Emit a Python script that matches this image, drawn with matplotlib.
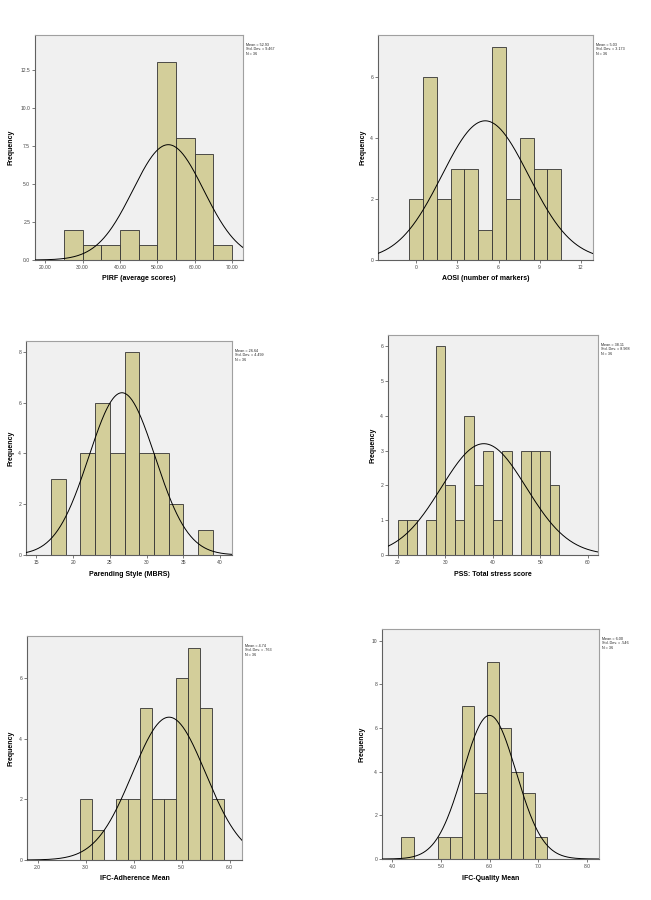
# %%
# Import packages
import numpy as np
import matplotlib
matplotlib.use("Agg")
import matplotlib.pyplot as plt

plt.rcParams["font.family"] = ["Liberation Sans", "DejaVu Sans"]

# %%
# Histogram data read off the SPSS output (bin start, bin width, counts)
pirf_start, pirf_width = 25.0, 5.0
pirf_counts = [2, 1, 1, 2, 1, 13, 8, 7, 1]

aosi_start, aosi_width = -0.53, 1.01
aosi_counts = [2, 6, 2, 3, 3, 1, 7, 2, 4, 3, 3]

mbrs_start, mbrs_width = 17.0, 2.0
mbrs_counts = [3, 0, 4, 6, 4, 8, 4, 4, 2, 0, 1]

pss_start, pss_width = 20.0, 2.0
pss_counts = [1, 1, 0, 1, 6, 2, 1, 4, 2, 3, 1, 3, 0, 3, 3, 3, 2]

adh_start, adh_width = 2.88, 0.25
adh_counts = [2, 1, 0, 2, 2, 5, 2, 2, 6, 7, 5, 2]

qual_start, qual_width = 4.19, 0.25
qual_counts = [1, 0, 0, 1, 1, 7, 3, 9, 6, 4, 3, 1]

# Summary statistics shown next to each chart
means = [52.93, 5.03, 26.64, 38.11, 4.74, 6.00]
std_devs = [9.467, 3.173, 4.499, 8.968, 0.763, 0.546]
mean_labels = ["52.93", "5.03", "26.64", "38.11", "4.74", "6.00"]
sd_labels = ["9.467", "3.173", "4.499", "8.968", ".763", ".546"]
n_total = 36

x_labels = ["PIRF (average scores)", "AOSI (number of markers)",
            "Parending Style (MBRS)", "PSS: Total stress score",
            "IFC-Adherence Mean", "IFC-Quality Mean"]

x_ticks = [[20, 30, 40, 50, 60, 70], [0, 3, 6, 9, 12], [15, 20, 25, 30, 35, 40],
           [20, 30, 40, 50, 60], [2, 3, 4, 5, 6], [4, 5, 6, 7, 8]]
x_tick_labels = [["20.00", "30.00", "40.00", "50.00", "60.00", "70.00"],
                 ["0", "3", "6", "9", "12"],
                 ["15", "20", "25", "30", "35", "40"],
                 ["20", "30", "40", "50", "60"],
                 ["2.0", "3.0", "4.0", "5.0", "6.0"],
                 ["4.0", "5.0", "6.0", "7.0", "8.0"]]
y_ticks = [[0, 2.5, 5, 7.5, 10, 12.5], [0, 2, 4, 6], [0, 2, 4, 6, 8],
           [0, 1, 2, 3, 4, 5, 6], [0, 2, 4, 6], [0, 2, 4, 6, 8, 10]]
y_tick_labels = [["0.0", "2.5", "5.0", "7.5", "10.0", "12.5"],
                 ["0", "2", "4", "6"], ["0", "2", "4", "6", "8"],
                 ["0", "1", "2", "3", "4", "5", "6"], ["0", "2", "4", "6"],
                 ["0", "2", "4", "6", "8", "10"]]

x_limits = [(17.3, 72.9), (-2.8, 12.9), (13.6, 41.6), (17.9, 62.2), (1.78, 6.26), (3.79, 8.25)]
y_limits = [14.8, 7.39, 8.42, 6.33, 7.38, 10.53]

hists = [(pirf_start, pirf_width, pirf_counts), (aosi_start, aosi_width, aosi_counts),
         (mbrs_start, mbrs_width, mbrs_counts), (pss_start, pss_width, pss_counts),
         (adh_start, adh_width, adh_counts), (qual_start, qual_width, qual_counts)]

# Axes boxes in pixels: left, right, top, bottom, offset of y label
boxes = [(35, 243, 35, 260, 24), (378, 593, 35, 260, 15),
         (26, 232, 341, 555, 15), (388, 598, 335, 555, 15),
         (27, 242, 636, 860, 16), (382, 599, 629, 859, 20)]

W, H = 651, 900
bar_color = "#d3ce9a"
bg_color = "#f0f0f0"

# %%
# Draw the six histograms
fig = plt.figure(figsize=(W / 100, H / 100), dpi=100)

for i in range(6):
    left, right, top, bottom, ylab_off = boxes[i]
    ax = fig.add_axes([left / W, 1 - bottom / H, (right - left) / W, (bottom - top) / H])
    ax.set_facecolor(bg_color)

    start, width, counts = hists[i]
    lefts = [start + k * width for k in range(len(counts))]
    keep = [k for k in range(len(counts)) if counts[k] > 0]
    ax.bar([lefts[k] for k in keep], [counts[k] for k in keep], width=width,
           align="edge", color=bar_color, edgecolor="#333333", linewidth=0.6, zorder=2)

    # Normal curve scaled to the histogram
    xs = np.linspace(x_limits[i][0], x_limits[i][1], 300)
    ys = n_total * width * np.exp(-0.5 * ((xs - means[i]) / std_devs[i]) ** 2) / (std_devs[i] * np.sqrt(2 * np.pi))
    ax.plot(xs, ys, color="black", linewidth=0.7, zorder=3)

    ax.set_xlim(x_limits[i])
    ax.set_ylim(0, y_limits[i])
    ax.set_xticks(x_ticks[i])
    ax.set_xticklabels(x_tick_labels[i])
    ax.set_yticks(y_ticks[i])
    ax.set_yticklabels(y_tick_labels[i])
    ax.tick_params(labelsize=3.6, length=2, width=0.5, pad=1.5, colors="#444444")

    for side in ["top", "right"]:
        ax.spines[side].set_color("#a0a0a0")
    for side in ["left", "bottom"]:
        ax.spines[side].set_color("#606060")
    for side in ax.spines:
        ax.spines[side].set_linewidth(0.8)

    ax.set_xlabel(x_labels[i], fontsize=5, fontweight="bold")
    ax.xaxis.set_label_coords(0.5, -19 / (bottom - top))
    ax.xaxis.label.set_va("center")
    ax.set_ylabel("Frequency", fontsize=5, fontweight="bold")
    ax.yaxis.set_label_coords(-ylab_off / (right - left), 0.5)
    ax.yaxis.label.set_va("center")

    # Stats box to the right of the plot
    stats = "Mean = %s\nStd. Dev. = %s\nN = %d" % (mean_labels[i], sd_labels[i], n_total)
    fig.text((right + 3) / W, 1 - (top + 8) / H, stats, fontsize=2.7,
             va="top", ha="left", linespacing=1.1, color="#222222")

fig.savefig("out.png", dpi=100, facecolor="white")
